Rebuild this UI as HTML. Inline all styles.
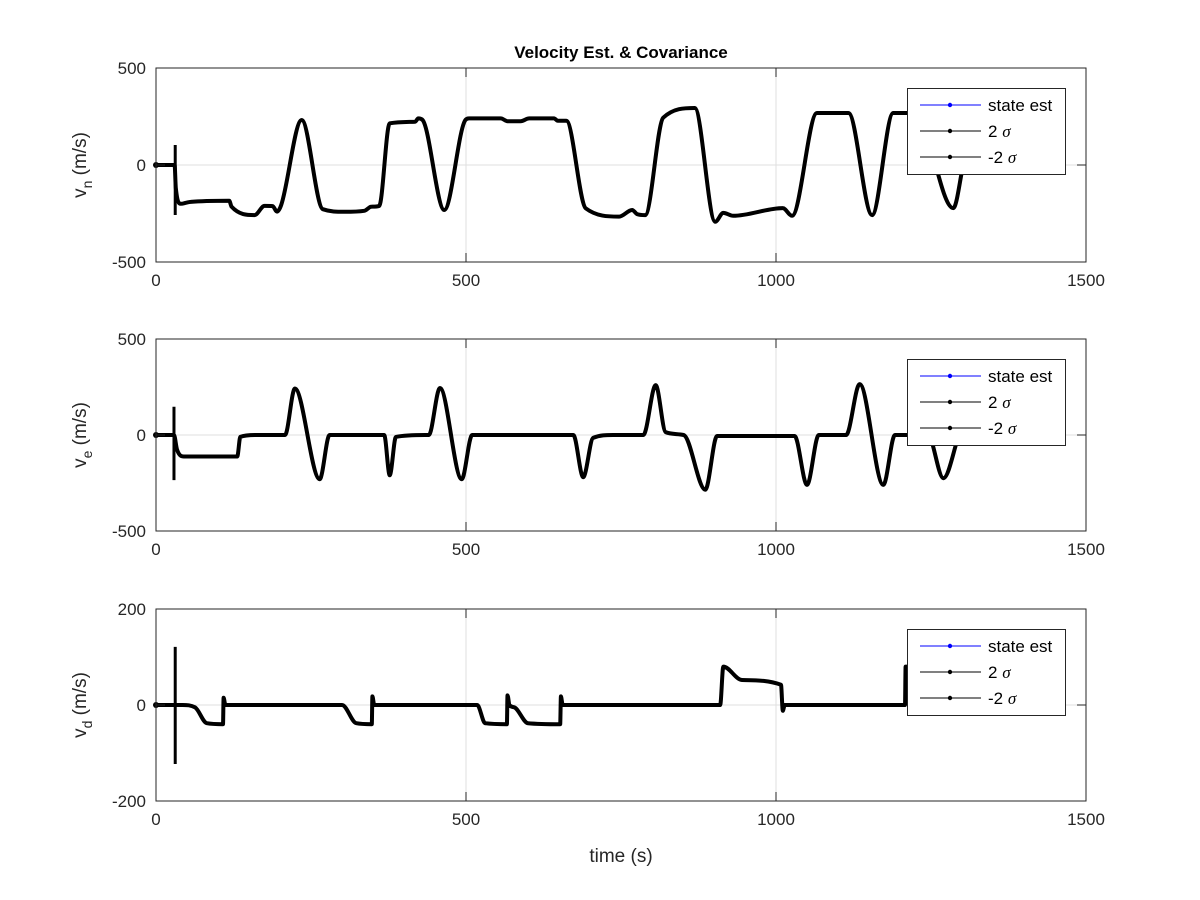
<!DOCTYPE html>
<html><head><meta charset="utf-8"><style>
html,body{margin:0;padding:0;background:#fff;}
svg{display:block;font-family:"Liberation Sans",sans-serif;}
</style></head><body>
<svg id="chart" width="1200" height="900" viewBox="0 0 1200 900">
<rect width="1200" height="900" fill="#fff"/>
<text x="621" y="58" text-anchor="middle" font-size="17" font-weight="bold" fill="#000">Velocity Est. &amp; Covariance</text>
<text x="621" y="862" text-anchor="middle" font-size="19" fill="#262626">time (s)</text>
</svg>
<script>
// ---- data ----
const vnT = [0,30,32,40,48,56,118,122,159,175,188,195,202,235,269,304,336,347,360,377,418,423,430,465,499,505,556,567,588,602,642,648,662,693,747,768,776,789,818,869,902,915,931,1011,1026,1066,1117,1155,1189,1225,1286,1302];
const vnV = [0,0,-118,-200,-195,-190,-184,-215,-258,-211,-212,-240,-206,232,-228,-241,-236,-215,-211,215,223,240,232,-232,232,240,240,226,226,240,240,228,228,-223,-266,-232,-253,-258,244,294,-293,-247,-262,-222,-262,268,268,-258,268,268,-222,0];
const vnSpikeT = [31]; const vnSpikeHi = [103]; const vnSpikeLo = [-258];

const veT = [0,29,34,45,131,136,160,208,224,264,280,368,377,387,434,440,458,493,510,673,689,705,737,786,806,822,851,886,905,1030,1050,1069,1113,1135,1173,1192,1245,1270,1295];
const veV = [0,0,-77,-112,-112,-10,0,0,242,-230,0,0,-210,-10,0,0,245,-230,0,0,-220,-15,0,0,260,15,0,-285,-5,-5,-260,0,0,265,-260,0,0,-225,0];
const veSpikeT = [29]; const veSpikeHi = [147]; const veSpikeLo = [-235];

const vdT = [0,43,63,82,108,109,112,300,323,348,349,352,518,531,566,567,570,578,600,652,653,656,910,915,945,1008,1011,1014,1020,1208,1209,1212];
const vdV = [0,0,-5,-38,-40,15,0,0,-38,-40,18,0,0,-38,-40,20,0,-5,-38,-40,18,0,0,80,52,42,-12,0,0,0,80,80];
const vdSpikeT = [31]; const vdSpikeHi = [121]; const vdSpikeLo = [-123];

const xTicks = [0,500,1000,1500];
const panels = [
 {name:'vn', sub:'n', top:68, bot:262, ymin:-500, ymax:500, yt:[-500,0,500], T:vnT, V:vnV, sT:vnSpikeT, sH:vnSpikeHi, sL:vnSpikeLo},
 {name:'ve', sub:'e', top:339, bot:531, ymin:-500, ymax:500, yt:[-500,0,500], T:veT, V:veV, sT:veSpikeT, sH:veSpikeHi, sL:veSpikeLo},
 {name:'vd', sub:'d', top:609, bot:801, ymin:-200, ymax:200, yt:[-200,0,200], T:vdT, V:vdV, sT:vdSpikeT, sH:vdSpikeHi, sL:vdSpikeLo}
];
const X0=156, X1=1086;
const svg=document.getElementById('chart');
const NS='http://www.w3.org/2000/svg';
function mk(tag,attrs,parent){const e=document.createElementNS(NS,tag);for(const k in attrs)e.setAttribute(k,attrs[k]);(parent||svg).appendChild(e);return e;}
const xs=t=>X0+(t/1500)*(X1-X0);

function monotonePath(px,py){
 const n=px.length; if(n<2)return '';
 const d=[],m=new Array(n);
 for(let i=0;i<n-1;i++)d.push((py[i+1]-py[i])/(px[i+1]-px[i]||1e-6));
 m[0]=d[0];m[n-1]=d[n-2];
 for(let i=1;i<n-1;i++){m[i]=(d[i-1]*d[i]<=0)?0:(d[i-1]+d[i])/2;}
 for(let i=0;i<n-1;i++){if(d[i]===0){m[i]=0;m[i+1]=0;continue;}const a=m[i]/d[i],b=m[i+1]/d[i];const s=a*a+b*b;if(s>9){const tt=3/Math.sqrt(s);m[i]=tt*a*d[i];m[i+1]=tt*b*d[i];}}
 let p='M'+px[0].toFixed(1)+','+py[0].toFixed(1);
 for(let i=0;i<n-1;i++){const h=(px[i+1]-px[i])/3;p+=' C'+(px[i]+h).toFixed(1)+','+(py[i]+m[i]*h).toFixed(1)+' '+(px[i+1]-h).toFixed(1)+','+(py[i+1]-m[i+1]*h).toFixed(1)+' '+px[i+1].toFixed(1)+','+py[i+1].toFixed(1);}
 return p;
}

panels.forEach((P,pi)=>{
 const ys=v=>P.bot-(v-P.ymin)/(P.ymax-P.ymin)*(P.bot-P.top);
 const g=mk('g',{});
 
 
 // grid
 xTicks.forEach(t=>{const l=mk('line',{x1:xs(t),x2:xs(t),y1:P.top,y2:P.bot,stroke:'#dfdfdf','stroke-width':1},g);
  });
 P.yt.forEach(v=>{const l=mk('line',{x1:X0,x2:X1,y1:ys(v),y2:ys(v),stroke:'#dfdfdf','stroke-width':1},g);
  });
 // series
 const px=P.T.map(xs),py=P.V.map(ys);
 const path=mk('path',{d:monotonePath(px,py),fill:'none',stroke:'#000','stroke-width':4,'stroke-linejoin':'round','stroke-linecap':'round'},g);
 
 
 P.sT.forEach((t,i)=>{const l=mk('line',{x1:xs(t),x2:xs(t),y1:ys(P.sH[i]),y2:ys(P.sL[i]),stroke:'#000','stroke-width':3},g);
  });
 const dot=mk('circle',{cx:xs(0),cy:ys(0),r:3,fill:'#000'},g);
 
 // axes box
 const box=mk('rect',{x:X0,y:P.top,width:X1-X0,height:P.bot-P.top,fill:'none',stroke:'#262626','stroke-width':1},g);
 
 xTicks.forEach(t=>{
  mk('line',{x1:xs(t),x2:xs(t),y1:P.bot,y2:P.bot-9,stroke:'#262626'},g);
  mk('line',{x1:xs(t),x2:xs(t),y1:P.top,y2:P.top+9,stroke:'#262626'},g);
  const tx=mk('text',{x:xs(t),y:P.bot+24,'text-anchor':'middle','font-size':17,fill:'#262626'},g);tx.textContent=t;
  
 });
 P.yt.forEach(v=>{
  mk('line',{x1:X0,x2:X0+9,y1:ys(v),y2:ys(v),stroke:'#262626'},g);
  mk('line',{x1:X1,x2:X1-9,y1:ys(v),y2:ys(v),stroke:'#262626'},g);
  const tx=mk('text',{x:146,y:ys(v)+6,'text-anchor':'end','font-size':17,fill:'#262626'},g);tx.textContent=v;
  
 });
 // y label
 const cy=(P.top+P.bot)/2;
 const yl=mk('text',{transform:'translate(86,'+cy+') rotate(-90)','text-anchor':'middle','font-size':19,fill:'#262626'},g);
 
 const a=mk('tspan',{},yl);a.textContent='v';
 const b=mk('tspan',{dy:6,'font-size':14},yl);b.textContent=P.sub;
 const c=mk('tspan',{dy:-6},yl);c.textContent=' (m/s)';
 // legend
 const lt=P.top+20;
 const lg=mk('g',{},g);
 
 mk('rect',{x:907.5,y:lt+0.5,width:158,height:86,fill:'#fff',stroke:'#262626','stroke-width':1},lg);
 const labels=[['state est',''],['2 ','σ'],['-2 ','σ']];
 const cols=['#0000ff','#000','#000'];
 labels.forEach((L,i)=>{
  const ry=lt+17+i*26;
  const e=mk('g',{},lg);
  
  mk('line',{x1:920,x2:981,y1:ry,y2:ry,stroke:cols[i],'stroke-width':1},e);
  mk('circle',{cx:950,cy:ry,r:2.2,fill:cols[i]},e);
  const tx=mk('text',{x:988,y:ry+6,'font-size':17,fill:'#000'},e);
  const s1=mk('tspan',{},tx);s1.textContent=L[0];
  if(L[1]){const s2=mk('tspan',{'font-family':'Liberation Serif, serif','font-style':'italic'},tx);s2.textContent=L[1];}
 });
});
</script>
</body></html>
